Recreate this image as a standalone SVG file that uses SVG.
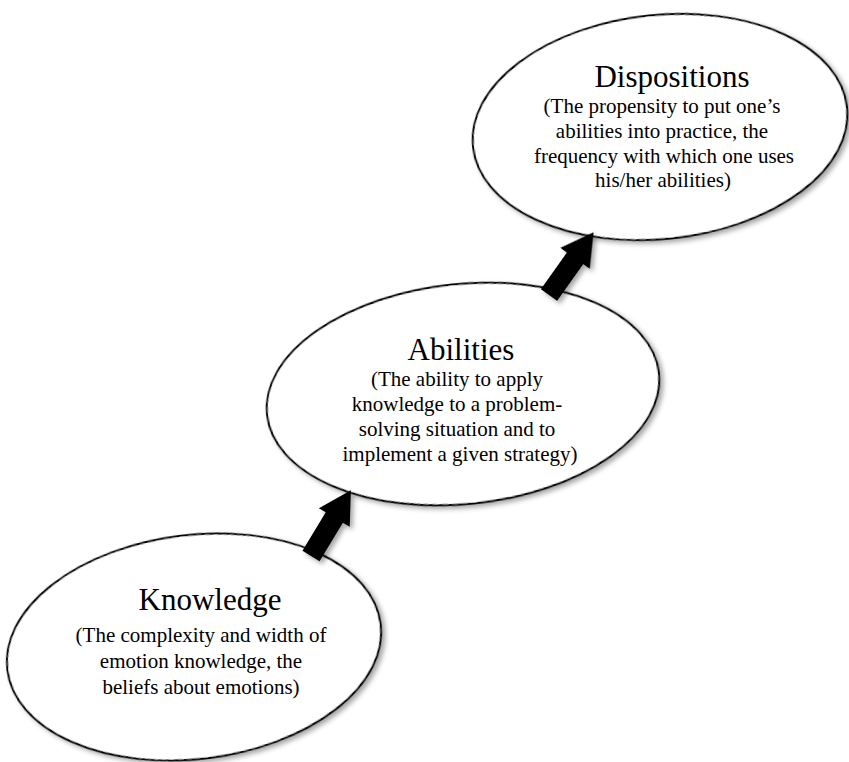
<svg xmlns="http://www.w3.org/2000/svg" width="849" height="762" viewBox="0 0 849 762">
  <style>
    .oval { fill: #ffffff; stroke: #000000; stroke-width: 2; }
    .title { font-family: "Liberation Serif", "Times New Roman", serif; font-size: 31px; fill: #000000; text-anchor: middle; }
    .body { font-family: "Liberation Serif", "Times New Roman", serif; font-size: 21px; fill: #000000; text-anchor: middle; }
    .arrow { fill: #000000; }
  </style>
  <defs>
    <filter id="shadow" x="-10%" y="-10%" width="125%" height="125%">
      <feDropShadow dx="3" dy="3" stdDeviation="2.5" flood-color="#000000" flood-opacity="0.35"/>
    </filter>
    <!-- block arrow pointing along +x, tail at origin -->
    <polygon id="blockArrow" points="0,-10 45,-10 45,-18 77,0 45,18 45,10 0,10"/>
  </defs>
  <rect width="849" height="762" fill="#ffffff"/>

  <g id="knowledge">
    <ellipse class="oval" filter="url(#shadow)" cx="194" cy="647" rx="188" ry="112" transform="rotate(-7 194 647)"/>
    <text class="title" x="210" y="610">Knowledge</text>
    <text class="body" x="201" y="642">(The complexity and width of</text>
    <text class="body" x="201" y="668">emotion knowledge, the</text>
    <text class="body" x="201" y="694">beliefs about emotions)</text>
  </g>

  <g id="abilities">
    <ellipse class="oval" filter="url(#shadow)" cx="463" cy="394" rx="197" ry="110" transform="rotate(-6 463 394)"/>
    <text class="title" x="461" y="360">Abilities</text>
    <text class="body" x="457" y="386">(The ability to apply</text>
    <text class="body" x="457" y="411">knowledge to a problem-</text>
    <text class="body" x="457" y="436">solving situation and to</text>
    <text class="body" x="460" y="461">implement a given strategy)</text>
  </g>

  <g id="dispositions">
    <ellipse class="oval" filter="url(#shadow)" cx="660" cy="127" rx="188" ry="112" transform="rotate(-6 660 127)"/>
    <text class="title" x="672" y="87">Dispositions</text>
    <text class="body" x="662" y="113">(The propensity to put one’s</text>
    <text class="body" x="662" y="138">abilities into practice, the</text>
    <text class="body" x="664" y="163">frequency with which one uses</text>
    <text class="body" x="663" y="187">his/her abilities)</text>
  </g>

  <g id="connectors" filter="url(#shadow)">
    <use href="#blockArrow" class="arrow" transform="translate(311 556) rotate(-58.8)"/>
    <use href="#blockArrow" class="arrow" transform="translate(549 295) rotate(-54.6)"/>
  </g>
</svg>
